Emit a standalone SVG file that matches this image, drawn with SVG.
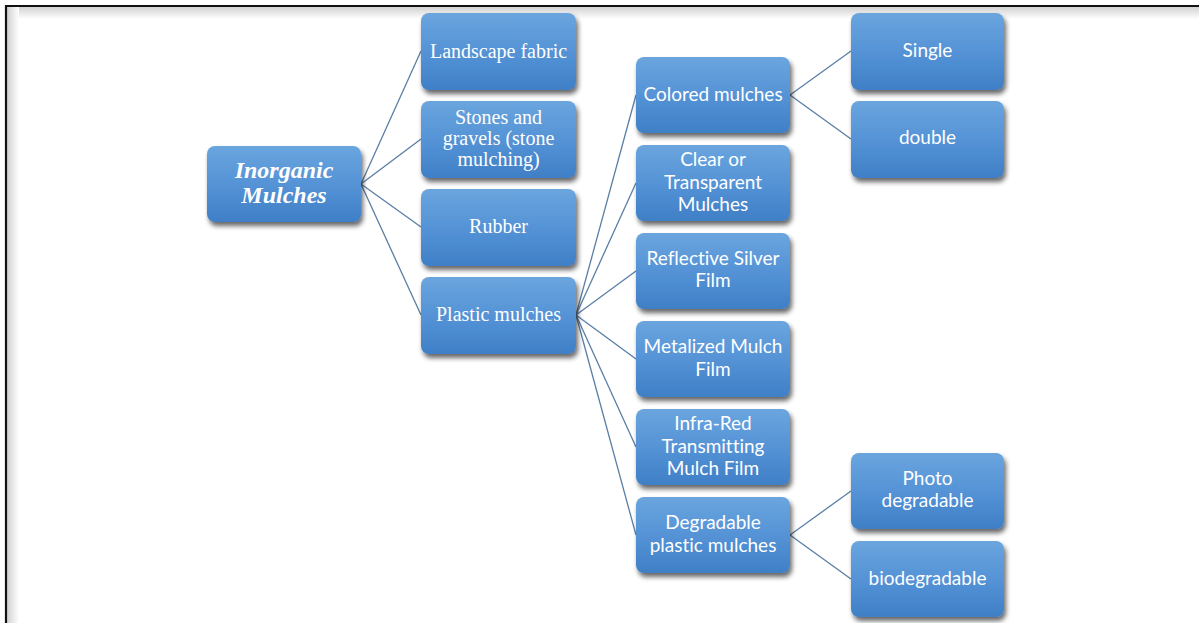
<svg xmlns="http://www.w3.org/2000/svg" width="1199" height="623" viewBox="0 0 1199 623">
<defs>
<linearGradient id="boxg" x1="0" y1="0" x2="0" y2="1">
<stop offset="0" stop-color="#6aa5de"/>
<stop offset="0.5" stop-color="#5593d6"/>
<stop offset="1" stop-color="#3f7fc6"/>
</linearGradient>
<linearGradient id="shT" x1="0" y1="0" x2="0" y2="1">
<stop offset="0" stop-color="#d2d2d2"/>
<stop offset="1" stop-color="#ffffff"/>
</linearGradient>
<linearGradient id="shL" x1="0" y1="0" x2="1" y2="0">
<stop offset="0" stop-color="#d2d2d2"/>
<stop offset="1" stop-color="#ffffff"/>
</linearGradient>
<filter id="sh" x="-10%" y="-10%" width="125%" height="130%">
<feGaussianBlur in="SourceAlpha" stdDeviation="2.5"/>
<feOffset dx="2" dy="4" result="b"/>
<feComponentTransfer><feFuncA type="linear" slope="0.6"/></feComponentTransfer>
<feMerge><feMergeNode/><feMergeNode in="SourceGraphic"/></feMerge>
</filter>
</defs>
<style>
.box{fill:url(#boxg);filter:url(#sh);}
.ser{font-family:"Liberation Serif","Times New Roman",serif;font-size:20px;fill:#ffffff;text-anchor:middle;}
.root{font-family:"Liberation Serif","Times New Roman",serif;font-size:24px;font-weight:bold;font-style:italic;fill:#ffffff;text-anchor:middle;}
.sans{font-family:Lato,"Liberation Sans",sans-serif;font-size:19px;fill:#ffffff;text-anchor:middle;font-variant-ligatures:none;}
.con line{stroke:#5a7ea6;stroke-width:1.3;fill:none;}
</style>
<rect x="0" y="0" width="1199" height="623" fill="#ffffff"/>
<rect x="7" y="7" width="1192" height="12" fill="url(#shT)"/>
<rect x="7" y="7" width="12" height="616" fill="url(#shL)"/>
<path d="M6,623 V6 H1199" fill="none" stroke="#111111" stroke-width="2.2"/>

<g id="connectors" class="con">
<line x1="361" y1="184" x2="421" y2="51"/>
<line x1="361" y1="184" x2="421" y2="139"/>
<line x1="361" y1="184" x2="421" y2="227"/>
<line x1="361" y1="184" x2="421" y2="315"/>
<line x1="576" y1="315" x2="636" y2="95"/>
<line x1="576" y1="315" x2="636" y2="183"/>
<line x1="576" y1="315" x2="636" y2="271"/>
<line x1="576" y1="315" x2="636" y2="359"/>
<line x1="576" y1="315" x2="636" y2="447"/>
<line x1="576" y1="315" x2="636" y2="535"/>
<line x1="790" y1="95" x2="851" y2="51"/>
<line x1="790" y1="95" x2="851" y2="139"/>
<line x1="790" y1="535" x2="851" y2="491"/>
<line x1="790" y1="535" x2="851" y2="579"/>
</g>

<g id="inorganic"><rect class="box" x="207" y="146" width="154" height="76" rx="8"/>
<text class="root" x="284" y="178">Inorganic</text><text class="root" x="284" y="203">Mulches</text></g>

<g id="landscape"><rect class="box" x="421" y="13" width="155" height="77" rx="8"/>
<text class="ser" x="498.5" y="58">Landscape fabric</text></g>
<g id="stones"><rect class="box" x="421" y="101" width="155" height="77" rx="8"/>
<text class="ser" x="498.5" y="124">Stones and</text><text class="ser" x="498.5" y="145">gravels (stone</text><text class="ser" x="498.5" y="166">mulching)</text></g>
<g id="rubber"><rect class="box" x="421" y="189" width="155" height="77" rx="8"/>
<text class="ser" x="498.5" y="233">Rubber</text></g>
<g id="plastic"><rect class="box" x="421" y="277" width="155" height="77" rx="8"/>
<text class="ser" x="498.5" y="321">Plastic mulches</text></g>

<g id="colored"><rect class="box" x="636" y="57" width="154" height="76" rx="8"/>
<text class="sans" x="713" y="101">Colored mulches</text></g>
<g id="clear"><rect class="box" x="636" y="145" width="154" height="76" rx="8"/>
<text class="sans" x="713" y="166">Clear or</text><text class="sans" x="713" y="189">Transparent</text><text class="sans" x="713" y="211">Mulches</text></g>
<g id="reflective"><rect class="box" x="636" y="233" width="154" height="76" rx="8"/>
<text class="sans" x="713" y="265">Reflective Silver</text><text class="sans" x="713" y="287">Film</text></g>
<g id="metalized"><rect class="box" x="636" y="321" width="154" height="76" rx="8"/>
<text class="sans" x="713" y="353">Metalized Mulch</text><text class="sans" x="713" y="376">Film</text></g>
<g id="infrared"><rect class="box" x="636" y="409" width="154" height="76" rx="8"/>
<text class="sans" x="713" y="430">Infra-Red</text><text class="sans" x="713" y="453">Transmitting</text><text class="sans" x="713" y="475">Mulch Film</text></g>
<g id="degradable"><rect class="box" x="636" y="497" width="154" height="76" rx="8"/>
<text class="sans" x="713" y="529">Degradable</text><text class="sans" x="713" y="552">plastic mulches</text></g>

<g id="single"><rect class="box" x="851" y="13" width="153" height="77" rx="8"/>
<text class="sans" x="927.5" y="57">Single</text></g>
<g id="double"><rect class="box" x="851" y="101" width="153" height="77" rx="8"/>
<text class="sans" x="927.5" y="144">double</text></g>
<g id="photo"><rect class="box" x="851" y="453" width="153" height="76" rx="8"/>
<text class="sans" x="927.5" y="485">Photo</text><text class="sans" x="927.5" y="507">degradable</text></g>
<g id="bio"><rect class="box" x="851" y="541" width="153" height="76" rx="8"/>
<text class="sans" x="927.5" y="585">biodegradable</text></g>
</svg>
